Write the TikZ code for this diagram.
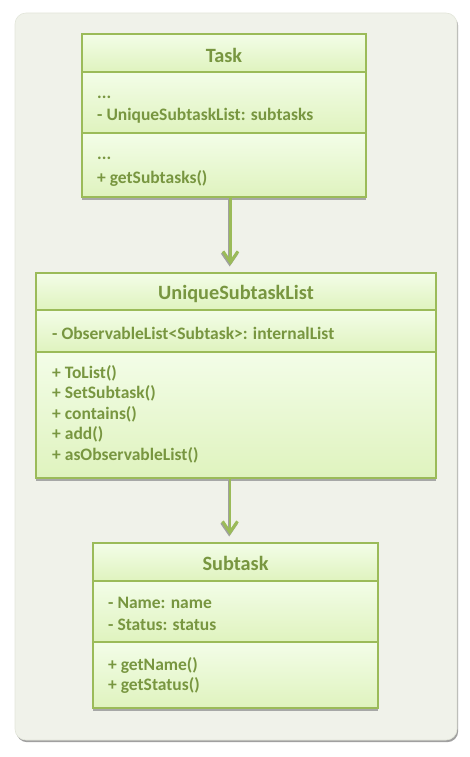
\documentclass[tikz,border=0pt]{standalone}
\usepackage{fontspec}
\setmainfont{Carlito}
\usetikzlibrary{arrows.meta,shadows}
\definecolor{umlgreen}{HTML}{9BBB59}
\definecolor{umltext}{HTML}{789640}
\definecolor{panelfill}{HTML}{F0F2EA}
\definecolor{paneledge}{HTML}{E3E6DA}
\definecolor{filltop}{HTML}{F3FDE8}
\definecolor{fillbot}{HTML}{DFF3BE}
\definecolor{shadowgray}{HTML}{A0A0A0}
\tikzset{
  panel/.style={fill=panelfill, draw=paneledge, line width=0.6pt, rounded corners=11pt,
    drop shadow={shadow xshift=1.2pt, shadow yshift=-2.2pt, fill=shadowgray, opacity=1}},
  classframe/.style={draw=umlgreen, line width=2.5pt, fill=fillbot, inner sep=0pt, outer sep=0pt,
    anchor=north west, drop shadow={shadow xshift=0.3pt, shadow yshift=-2.5pt, fill=shadowgray, opacity=0.9}},
  comp/.style={draw=umlgreen, line width=2.5pt, top color=filltop, bottom color=fillbot,
    inner sep=0pt, outer sep=0pt, anchor=north west},
  titletext/.style={text=umltext, font=\fontsize{20.3}{22}\selectfont\bfseries, inner sep=0pt},
  bodytext/.style={text=umltext, font=\fontsize{17.5}{19}\selectfont\bfseries, inner sep=0pt, anchor=west},
  conn/.style={draw=umlgreen, line width=2.6pt, -{Straight Barb[length=11pt,width=15pt,line width=3pt]}, shorten >=8pt},
  connshadow/.style={draw=shadowgray, line width=2.6pt, -{Straight Barb[length=11pt,width=15pt,line width=3pt]}, shorten >=8pt}
}
\begin{document}
\begin{tikzpicture}[x=1pt,y=-1pt]
\useasboundingbox (0,0) rectangle (470,757);
\path[panel] (15,13) rectangle (457,740);

% ---------- Task ----------
\node[classframe, minimum width=284pt, minimum height=163pt] (task) at (82,34) {};
\node[comp, minimum width=284pt, minimum height=38pt] (task-h) at (82,34) {};
\node[comp, minimum width=284pt, minimum height=61pt] (task-a) at (82,72) {};
\node[comp, minimum width=284pt, minimum height=64pt] (task-m) at (82,133) {};
\node[titletext] (task-t) at (224,55) {Task};
\node[bodytext] (task-a1) at (97,97) {...};
\node[bodytext] (task-a2) at (97,116) {- UniqueSubtaskList: subtasks};
\node[bodytext] (task-m1) at (97,158) {...};
\node[bodytext] (task-m2) at (97,178) {+ getSubtasks()};

% ---------- UniqueSubtaskList ----------
\node[classframe, minimum width=400pt, minimum height=205pt] (usl) at (36,273) {};
\node[comp, minimum width=400pt, minimum height=37pt] (usl-h) at (36,273) {};
\node[comp, minimum width=400pt, minimum height=42pt] (usl-a) at (36,310) {};
\node[comp, minimum width=400pt, minimum height=126pt] (usl-m) at (36,352) {};
\node[titletext] (usl-t) at (236,294) {UniqueSubtaskList};
\node[bodytext] (usl-a1) at (52,333) {- ObservableList<Subtask>: internalList};
\node[bodytext] (usl-m1) at (52,373) {+ ToList()};
\node[bodytext] (usl-m2) at (52,393.5) {+ SetSubtask()};
\node[bodytext] (usl-m3) at (52,414) {+ contains()};
\node[bodytext] (usl-m4) at (52,434.5) {+ add()};
\node[bodytext] (usl-m5) at (52,455) {+ asObservableList()};

% ---------- Subtask ----------
\node[classframe, minimum width=285pt, minimum height=165pt] (sub) at (93,543) {};
\node[comp, minimum width=285pt, minimum height=38pt] (sub-h) at (93,543) {};
\node[comp, minimum width=285pt, minimum height=61pt] (sub-a) at (93,581) {};
\node[comp, minimum width=285pt, minimum height=66pt] (sub-m) at (93,642) {};
\node[titletext] (sub-t) at (235.5,563) {Subtask};
\node[bodytext] (sub-a1) at (108,603) {- Name: name};
\node[bodytext] (sub-a2) at (108,625) {- Status: status};
\node[bodytext] (sub-m1) at (108,665) {+ getName()};
\node[bodytext] (sub-m2) at (108,685) {+ getStatus()};

% ---------- connectors ----------
\coordinate (a1s) at ([xshift=6.5pt]task.south);
\coordinate (a1e) at (a1s |- usl.north);
\coordinate (a2s) at ([xshift=-6pt]usl.south);
\coordinate (a2e) at (a2s |- sub.north);
\draw[connshadow] ([xshift=-0.8pt,yshift=-1.5pt]a1s) -- ([xshift=-0.8pt,yshift=-1.5pt]a1e);
\draw[conn] (a1s) -- (a1e);
\draw[connshadow] ([xshift=-0.8pt,yshift=-1.5pt]a2s) -- ([xshift=-0.8pt,yshift=-1.5pt]a2e);
\draw[conn] (a2s) -- (a2e);
\end{tikzpicture}
\end{document}
